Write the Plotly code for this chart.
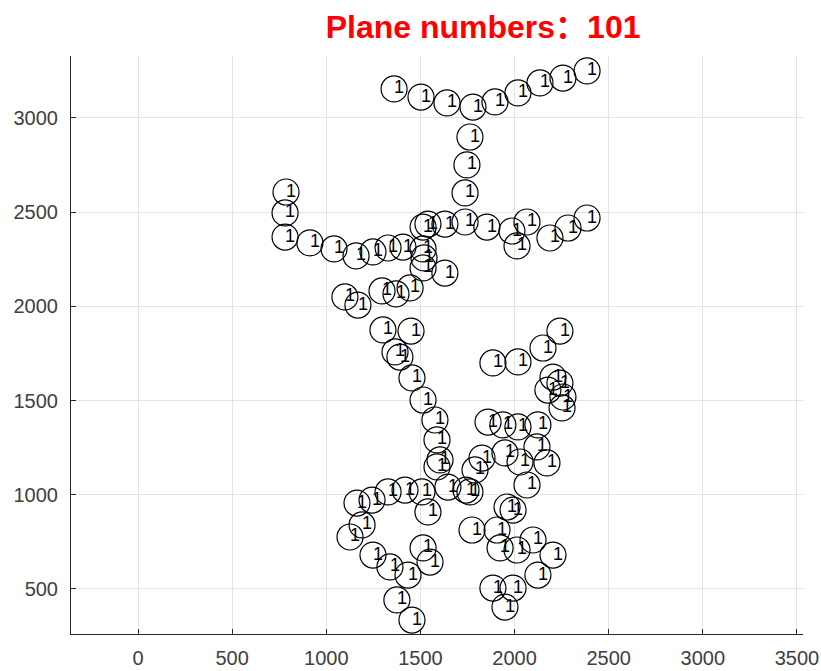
#scatter of plane positions, each drawn as an open circle with its label
import plotly.graph_objects as go

#plane positions
xs = [1360, 1503, 1641, 1779, 1896, 2018, 2135, 2257, 2385, 1763, 1747, 1737,
      786, 781, 781, 913, 1041, 1158, 1248, 1328, 1407, 1514, 1514, 1540,
      1630, 1737, 1853, 1986, 2013, 2066, 2188, 2284, 2385, 1514, 1630, 1519,
      1099, 1168, 1296, 1370, 1445, 1301, 1450, 1365, 1391, 1455, 1514,
      1577, 1588, 1604, 1885, 2018, 2151, 2241, 2204, 2241, 2177, 2257, 2252,
      1859, 1938, 2018, 2124, 2119, 1949, 1827, 1790, 2029, 2172, 1588,
      1742, 1763, 1646, 2066, 1163, 1243, 1328, 1418, 1508, 1540, 1190, 1126,
      1248, 1338, 1434, 1514, 1551, 1375, 1455, 1774, 1907, 1960, 1992, 1923,
      2013, 2098, 2204, 2124, 1885, 1992, 1949]
ys = [3154, 3111, 3080, 3058, 3085, 3133, 3186, 3212, 3250, 2899, 2751, 2602,
      2607, 2496, 2368, 2337, 2305, 2268, 2289, 2310, 2315, 2305, 2421, 2437,
      2437, 2448, 2421, 2400, 2321, 2448, 2363, 2416, 2469, 2204, 2177, 2257,
      2050, 2007, 2082, 2066, 2098, 1875, 1869, 1758, 1731, 1620, 1503,
      1397, 1291, 1185, 1700, 1705, 1779, 1869, 1625, 1593, 1556, 1519, 1461,
      1386, 1371, 1360, 1371, 1254, 1222, 1195, 1132, 1174, 1169, 1148,
      1025, 1015, 1041, 1052, 956, 972, 1015, 1025, 1015, 909, 840, 776,
      680, 617, 574, 718, 643, 442, 335, 813, 813, 935, 919, 718,
      707, 760, 680, 574, 505, 505, 404]
labels = ['1'] * len(xs)

xticks = [0, 500, 1000, 1500, 2000, 2500, 3000, 3500]
yticks = [500, 1000, 1500, 2000, 2500, 3000]

title = 'Plane numbers\uff1a' + str(len(xs))

fig = go.Figure()

fig.add_trace(go.Scatter(x=xs, y=ys, mode='markers',
                         marker=dict(symbol='circle-open', size=26, color='black',
                                     line=dict(width=1.2, color='black')),
                         showlegend=False, hoverinfo='skip'))

fig.add_trace(go.Scatter(x=xs, y=ys, mode='text', text=labels,
                         textposition='middle right',
                         textfont=dict(family='Liberation Sans, Arial', size=18, color='black'),
                         showlegend=False, hoverinfo='skip'))

fig.update_layout(
    width=821, height=671,
    paper_bgcolor='white', plot_bgcolor='white',
    margin=dict(l=71, r=18, t=56, b=37, pad=0),
    font=dict(family='Liberation Sans, Arial', size=20, color='#404040'),
    title=dict(text='<b>' + title + '</b>', x=0.563, xref='paper', xanchor='center',
               y=1 - 27/671, yref='container', yanchor='middle', automargin=False,
               font=dict(family='Liberation Sans, Noto Sans CJK SC', size=32, color='red')),
)

fig.update_xaxes(range=[-356, 3532], tickvals=xticks, ticks='inside', ticklen=5,
                 tickcolor='#262626', showline=True, linecolor='#262626', linewidth=1,
                 showgrid=True, gridcolor='#e3e3e3', gridwidth=1, zeroline=False,
                 ticklabelstandoff=6, automargin=False)
fig.update_yaxes(range=[261, 3329], tickvals=yticks, ticks='inside', ticklen=5,
                 tickcolor='#262626', showline=True, linecolor='#262626', linewidth=1,
                 showgrid=True, gridcolor='#e3e3e3', gridwidth=1, zeroline=False,
                 ticklabelstandoff=8, automargin=False)

#drop the page's default body margin so the figure fills the window
fig.write_html("out.html", config=dict(displayModeBar=False),
               post_script="document.body.style.margin='0';document.body.style.overflow='hidden';")
